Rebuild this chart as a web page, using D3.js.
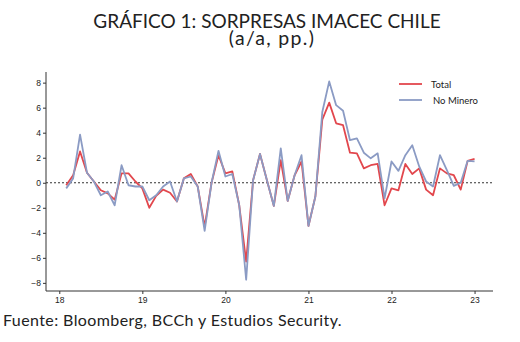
<!DOCTYPE html>
<html>
<head>
<meta charset="utf-8">
<script src="https://cdn.jsdelivr.net/npm/d3@7"></script>
<style>
  html, body { margin: 0; padding: 0; background: #fff; }
  svg { display: block; }
</style>
</head>
<body>
<svg id="chart" width="520" height="342"></svg>
<script>
// Monthly surprises, Feb 2018 .. Jan 2023 (pp., y/y)
const months = [
  "2018-02","2018-03","2018-04","2018-05","2018-06","2018-07","2018-08","2018-09","2018-10","2018-11","2018-12",
  "2019-01","2019-02","2019-03","2019-04","2019-05","2019-06","2019-07","2019-08","2019-09","2019-10","2019-11","2019-12",
  "2020-01","2020-02","2020-03","2020-04","2020-05","2020-06","2020-07","2020-08","2020-09","2020-10","2020-11","2020-12",
  "2021-01","2021-02","2021-03","2021-04","2021-05","2021-06","2021-07","2021-08","2021-09","2021-10","2021-11","2021-12",
  "2022-01","2022-02","2022-03","2022-04","2022-05","2022-06","2022-07","2022-08","2022-09","2022-10","2022-11","2022-12",
  "2023-01"
];
const total = [
  -0.2, 0.6, 2.5, 0.8, 0.1, -0.6, -0.85, -1.35, 0.75, 0.75, 0.1,
  -0.45, -2.0, -1.05, -0.55, -0.8, -1.5, 0.35, 0.7, -0.3, -3.5, 0.0, 2.2,
  0.75, 0.9, -1.8, -6.3, 0.2, 2.3, 0.2, -1.85, 1.8, -1.45, 0.6, 1.7,
  -3.45, -1.1, 5.05, 6.4, 4.75, 4.6, 2.4, 2.35, 1.15, 1.4, 1.5, -1.8,
  -0.45, -0.6, 1.5, 0.7, 1.15, -0.55, -1.0, 1.15, 0.75, 0.6, -0.55, 1.75,
  1.9
];
const noMinero = [
  -0.45, 0.35, 3.85, 0.8, 0.1, -1.0, -0.7, -1.8, 1.4, -0.2, -0.3,
  -0.3, -1.4, -1.0, -0.3, 0.1, -1.5, 0.35, 0.5, -0.3, -3.85, 0.0, 2.55,
  0.5, 0.7, -1.8, -7.75, 0.2, 2.3, 0.2, -1.85, 2.75, -1.45, 0.6, 2.2,
  -3.45, -1.1, 5.65, 8.1, 6.2, 5.75, 3.4, 3.55, 2.4, 1.95, 2.35, -1.25,
  1.7, 0.95, 2.2, 3.0, 1.3, 0.1, -0.3, 2.2, 1.0, -0.25, 0.0, 1.75,
  1.7
];
const yTicks = [-8, -6, -4, -2, 0, 2, 4, 6, 8];
const xTickYears = [2018, 2019, 2020, 2021, 2022, 2023];
const xTickLabels = ["18", "19", "20", "21", "22", "23"];
const seriesNames = ["Total", "No Minero"];
const seriesColors = ["#e2474d", "#8b9bc4"];

// fractional year for each month
const t = months.map(m => { const [yr, mo] = m.split("-").map(Number); return yr + (mo - 1) / 12; });

const svg = d3.select("#chart");
const plotLeft = 46, plotRight = 493, plotTop = 72, plotBottom = 291;

const x = d3.scaleLinear().domain([2017.84, 2023.222]).range([plotLeft, plotRight]);
const y = d3.scaleLinear().domain([-8.65, 8.85]).range([plotBottom, plotTop]);

// two-line title in one text block
const title = svg.append("text").attr("text-anchor", "middle")
  .attr("font-family", "Lato, 'Noto Sans', sans-serif").attr("fill", "#222");
title.append("tspan").attr("x", 267).attr("y", 28).attr("font-size", 19)
  .text("GRÁFICO 1: SORPRESAS IMACEC CHILE");
title.append("tspan").attr("x", 272).attr("y", 45).attr("font-size", 19.5)
  .attr("letter-spacing", 1.3).text("(a/a, pp.)");

// axes
const yAxis = d3.axisLeft(y).tickValues(yTicks).tickSize(3).tickPadding(2).tickFormat(d3.format("d"));
const gy = svg.append("g").attr("transform", `translate(${plotLeft},0)`).call(yAxis);
gy.select(".domain").attr("d", `M0,${plotTop}V${plotBottom}`);

const xAxis = d3.axisBottom(x).tickValues(xTickYears).tickSize(3).tickPadding(3)
  .tickFormat((d, i) => xTickLabels[i]);
const gx = svg.append("g").attr("transform", `translate(0,${plotBottom})`).call(xAxis);
gx.select(".domain").attr("d", `M${plotLeft},0H${plotRight}`);

[gx, gy].forEach(g => {
  g.selectAll("path, line").attr("stroke", "#333").attr("stroke-width", 1);
  g.selectAll("text").attr("font-family", "'Liberation Sans', Arial, sans-serif")
    .attr("font-size", 8.5).attr("fill", "#222");
});

// zero reference line
svg.append("line").attr("x1", plotLeft).attr("x2", plotRight).attr("y1", y(0)).attr("y2", y(0))
  .attr("stroke", "#333").attr("stroke-width", 1).attr("stroke-dasharray", "2,2");

// series lines
const line = d3.line().x((d, i) => x(t[i])).y(d => y(d));
[total, noMinero].forEach((vals, k) => {
  svg.append("path").datum(vals).attr("d", line).attr("fill", "none")
    .attr("stroke", seriesColors[k]).attr("stroke-width", 1.8).attr("stroke-linejoin", "round");
});

// legend
const lg = svg.append("g");
seriesNames.forEach((name, k) => {
  const ly = 84 + k * 16;
  lg.append("line").attr("x1", 399).attr("x2", 422).attr("y1", ly).attr("y2", ly)
    .attr("stroke", seriesColors[k]).attr("stroke-width", 1.8);
  lg.append("text").attr("x", 431 + k * 2).attr("y", ly + 3.5)
    .attr("font-family", "Lato, 'Noto Sans', sans-serif").attr("font-size", 9.5)
    .attr("fill", "#222").text(name);
});

// source note
svg.append("text").attr("x", 3).attr("y", 326)
  .attr("font-family", "Lato, 'Noto Sans', sans-serif").attr("font-size", 16)
  .attr("letter-spacing", 0.4)
  .attr("fill", "#222").text("Fuente: Bloomberg, BCCh y Estudios Security.");
</script>
</body>
</html>
